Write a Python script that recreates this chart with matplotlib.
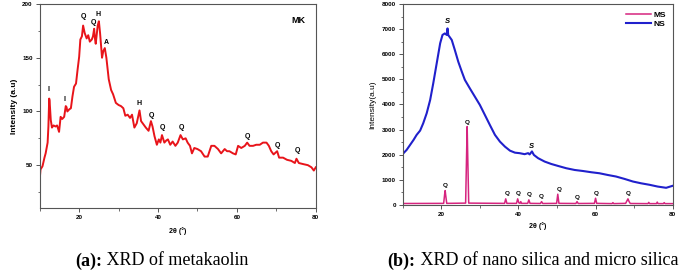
import matplotlib
matplotlib.use("Agg")
import matplotlib.pyplot as plt
from matplotlib.ticker import MultipleLocator

# (a) metakaolin XRD trace
mk_angle = [10.0, 10.2, 10.7, 11.2, 11.5, 12.0, 12.2, 12.4, 12.5, 12.8, 13.1, 13.5, 14.0, 14.4, 14.9,
            15.3, 15.7, 16.2, 16.6, 16.8, 17.0, 17.5, 17.9, 18.3, 18.7, 19.2, 19.6, 20.0, 20.3,
            20.7, 21.0, 21.4, 21.9, 22.3, 22.7, 23.2, 23.5, 23.8, 24.0, 24.2, 24.7, 25.0, 25.3,
            25.8, 26.1, 26.5, 26.9, 27.5, 28.1, 28.6, 29.3, 30.0, 30.6, 31.2, 31.7, 32.3, 32.9,
            33.4, 34.0, 34.6, 35.3, 35.7, 36.3, 36.9, 37.6, 38.2, 38.6, 39.1, 39.7, 40.2, 40.6,
            41.0, 41.6, 42.1, 42.5, 43.1, 43.7, 44.4, 45.0, 45.7, 46.3, 47.0, 47.5, 48.1, 48.6,
            49.2, 50.0, 50.9, 51.8, 52.6, 53.5, 54.3, 55.2, 56.0, 56.9, 57.5, 58.1, 59.0, 59.7,
            60.3, 61.1, 62.0, 62.6, 63.2, 64.1, 64.9, 65.8, 66.6, 67.5, 68.1, 68.7, 69.3, 70.2,
            70.7, 71.7, 72.7, 73.8, 74.7, 75.1, 75.7, 76.8, 78.0, 78.9, 79.5, 80.0]
mk_counts = [37, 46, 49, 57, 61, 71, 86, 112, 110, 92, 85, 87, 86, 87, 81,
             95, 93, 95, 105, 104, 100, 102, 103, 114, 123, 126, 139, 151, 167,
             170, 180, 173, 168, 171, 165, 167, 170, 177, 168, 163, 180, 184, 173,
             150, 156, 159, 150, 130, 120, 116, 108, 106, 105, 103, 96, 97, 94,
             97, 85, 89, 101, 91, 88, 85, 82, 91, 86, 77, 69, 74, 71,
             78, 71, 73, 74, 69, 72, 68, 71, 78, 74, 75, 71, 68, 61,
             66, 65, 63, 58, 58, 68, 68, 65, 61, 65, 63, 63, 61, 60,
             68, 66, 68, 71, 68, 68, 69, 69, 71, 71, 68, 63, 60, 63,
             57, 57, 55, 54, 52, 56, 52, 51, 50, 48, 45, 48]
mk_peak_labels = ["I", "I", "Q", "Q", "H", "A", "H", "Q", "Q", "Q", "Q", "Q", "Q"]
mk_peak_x = [12.1, 16.3, 21.0, 23.6, 24.8, 26.8, 35.3, 38.4, 41.0, 45.9, 62.7, 70.4, 75.3]
mk_peak_y = [120, 111, 188, 183, 190, 164, 107, 96, 85, 85, 77, 68, 64]

# (b) nano silica (NS)
ns_angle = [10.0, 11.0, 11.9, 12.8, 13.6, 14.5, 15.3, 16.2, 17.1, 17.9, 18.8, 19.7, 20.3, 20.9,
            21.4, 21.6, 21.8, 22.1, 22.7, 23.5, 24.4, 25.3, 26.1, 27.4, 28.7, 30.0, 31.3, 32.6,
            33.9, 35.2, 36.5, 37.8, 39.1, 40.3, 41.6, 42.5, 42.9, 43.5, 44.0, 45.1, 46.8, 48.5,
            50.3, 52.4, 54.6, 56.7, 58.9, 61.0, 63.2, 65.3, 67.5, 69.7, 71.8, 74.0, 76.1, 78.3,
            80.0]
ns_counts = [2030, 2190, 2390, 2590, 2790, 2960, 3250, 3650, 4180, 4840, 5640, 6440, 6770, 6830,
             6770, 7030, 6760, 6700, 6570, 6170, 5700, 5310, 4980, 4640, 4310, 3980, 3580, 3180,
             2790, 2520, 2320, 2160, 2080, 2060, 2020, 2060, 2010, 2130, 1990, 1860, 1725, 1630,
             1550, 1460, 1390, 1350, 1300, 1260, 1190, 1130, 1035, 930, 860, 800, 730, 680,
             760]

# (b) micro silica (MS)
ms_angle = [10.0, 20.6, 20.9, 21.0, 21.1, 21.4, 26.3, 26.6, 26.7, 26.8, 27.1, 36.4, 36.7, 37.0,
            39.5, 39.8, 40.1, 40.4, 40.6, 40.8, 42.4, 42.7, 43.0, 45.7, 46.0, 46.3, 49.9, 50.2,
            50.5, 54.9, 55.2, 55.5, 59.7, 60.0, 60.3, 64.3, 64.5, 64.7, 67.8, 68.2, 68.4, 68.7,
            69.0, 73.6, 73.8, 74.0, 75.8, 76.0, 76.2, 77.6, 77.8, 78.0, 80.0]
ms_counts = [55, 60, 480, 570, 420, 60, 70, 2400, 3120, 2300, 70, 60, 240, 60,
             60, 240, 80, 60, 130, 60, 60, 200, 60, 55, 130, 55, 60, 425,
             60, 55, 130, 55, 60, 265, 60, 50, 90, 50, 60, 180, 240, 130,
             55, 50, 100, 50, 50, 110, 50, 50, 90, 50, 50]
ns_peak_labels = ["S", "S"]
ns_peak_x = [21.7, 43.5]
ns_peak_y = [7300, 2330]
ms_peak_labels = ["Q"] * 10
ms_peak_x = [21.1, 26.8, 37.0, 39.9, 42.8, 46.0, 50.5, 55.3, 60.2, 68.5]
ms_peak_y = [760, 3280, 440, 460, 400, 320, 610, 300, 460, 460]

plt.rcParams["font.family"] = ["Liberation Sans", "DejaVu Sans"]

fig = plt.figure(figsize=(6.85, 2.71), dpi=100)
ax1 = fig.add_axes([0.058, 0.232, 0.403, 0.753])
ax2 = fig.add_axes([0.588, 0.244, 0.394, 0.741])

ax1.plot(mk_angle, mk_counts, color="#e8141a", linewidth=1.4)
for lab, x, y in zip(mk_peak_labels, mk_peak_x, mk_peak_y):
    ax1.text(x, y, lab, fontsize=5, fontweight="bold", ha="center", va="center")
ax1.text(75.5, 185, "MK", fontsize=6.5, fontweight="bold", ha="center", va="center")
ax1.set_xlim(10, 80)
ax1.set_ylim(10, 200)
ax1.set_yticks([50, 100, 150, 200])
ax1.yaxis.set_minor_locator(MultipleLocator(25))
ax1.xaxis.set_minor_locator(MultipleLocator(10))
ax1.set_xticks([20, 40, 60, 80])
ax1.set_ylabel("Intensity (a.u)", fontsize=6, fontweight="bold", labelpad=3)
ax1.set_xlabel("2θ (°)", fontsize=5, fontweight="bold", labelpad=5)

ax2.plot(ms_angle, ms_counts, color="#d6247f", linewidth=1.1, label="MS")
ax2.plot(ns_angle, ns_counts, color="#2020cc", linewidth=1.5, label="NS")
for lab, x, y in zip(ns_peak_labels, ns_peak_x, ns_peak_y):
    ax2.text(x, y, lab, fontsize=5.5, fontstyle="italic", fontweight="bold", ha="center", va="center")
for lab, x, y in zip(ms_peak_labels, ms_peak_x, ms_peak_y):
    ax2.text(x, y, lab, fontsize=4.5, fontweight="bold", ha="center", va="center")
ax2.set_xlim(10, 80)
ax2.set_ylim(0, 8000)
ax2.set_yticks(range(0, 8001, 1000))
ax2.yaxis.set_minor_locator(MultipleLocator(500))
ax2.xaxis.set_minor_locator(MultipleLocator(10))
ax2.set_xticks([20, 40, 60, 80])
ax2.set_ylabel("Intensity(a.u)", fontsize=6, labelpad=4)
ax2.set_xlabel("2θ (°)", fontsize=5, fontweight="bold", labelpad=4)
leg = ax2.legend(loc="upper right", frameon=False, fontsize=6, handlelength=3,
                 borderaxespad=0.4, labelspacing=0.2, handletextpad=0.3)
for t in leg.get_texts():
    t.set_fontweight("bold")

for ax in (ax1, ax2):
    for s in ax.spines.values():
        s.set_color("#555555")
        s.set_linewidth(0.8)
    ax.tick_params(which="major", direction="out", length=3, width=0.7, labelsize=4.5, pad=2, colors="#555555", labelcolor="black")
    ax.tick_params(which="minor", direction="out", length=1.8, width=0.6, colors="#555555")
    for lbl in ax.get_xticklabels() + ax.get_yticklabels():
        lbl.set_fontweight("bold")


# caption: bold "(x):" followed by regular text, centred as a whole
def caption(cx, bold_part, rest):
    renderer = fig.canvas.get_renderer()
    tb = fig.text(0, 0.037, bold_part, family="Liberation Serif", fontweight="bold",
                  fontsize=13, ha="left", va="center")
    tr = fig.text(0, 0.037, rest, family="Liberation Serif", fontsize=13, ha="left", va="center")
    wb = tb.get_window_extent(renderer).width / fig.bbox.width
    wr = tr.get_window_extent(renderer).width / fig.bbox.width
    x0 = cx - (wb + wr) / 2
    tb.set_x(x0)
    tr.set_x(x0 + wb)


caption(0.236, "(a):", " XRD of metakaolin")
caption(0.778, "(b):", " XRD of nano silica and micro silica")

fig.savefig("out.png", dpi=100)
